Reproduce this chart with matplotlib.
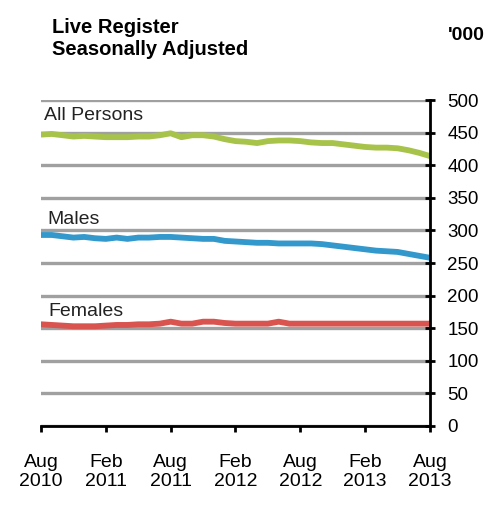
import matplotlib
matplotlib.use("Agg")
import matplotlib.pyplot as plt
import numpy as np

plt.rcParams['font.family'] = ['Liberation Sans', 'DejaVu Sans']

tick_labels = ["Aug\n2010", "Feb\n2011", "Aug\n2011", "Feb\n2012", "Aug\n2012", "Feb\n2013", "Aug\n2013"]

all_persons = [447, 448, 446, 444, 445, 444, 443, 443, 443, 444, 444, 446, 449,
               443, 446, 446, 444, 440, 437, 436, 434, 437, 438, 438, 437, 435,
               434, 434, 432, 430, 428, 427, 427, 426, 423, 419, 414]
males = [293, 293, 291, 289, 290, 288, 287, 289, 287, 289, 289, 290, 290,
         289, 288, 287, 287, 284, 283, 282, 281, 281, 280, 280, 280, 280,
         279, 277, 275, 273, 271, 269, 268, 267, 264, 261, 258]
females = [156, 155, 154, 153, 153, 153, 154, 155, 155, 156, 156, 157, 160,
           157, 157, 160, 160, 158, 157, 157, 157, 157, 160, 157, 157, 157,
           157, 157, 157, 157, 157, 157, 157, 157, 157, 157, 157]
series_names = ["All Persons", "Males", "Females"]
colors = ["#a8c34a", "#3399cc", "#d9534f"]

fig = plt.figure(figsize=(4.89, 5.13), dpi=100)
ax = fig.add_axes([0.0838, 0.1696, 0.7955, 0.6354])

months = np.arange(len(all_persons))
for vals, c in zip([all_persons, males, females], colors):
    ax.plot(months, vals, color=c, lw=4.2, solid_capstyle='round', zorder=3)

ax.set_xlim(0, 36)
ax.set_ylim(0, 500)
ax.set_yticks(np.arange(0, 501, 50))
ax.yaxis.tick_right()
ax.set_xticks(np.arange(0, 37, 6))
ax.set_xticklabels(tick_labels, fontsize=14, linespacing=1.15)
ax.tick_params(axis='y', labelsize=13.5, direction='inout', length=7, width=2, pad=9)
ax.tick_params(axis='x', direction='out', length=4, width=2, pad=16)
ax.grid(axis='y', color='#a0a0a0', lw=2.4, zorder=1)
for s in ['top', 'left']:
    ax.spines[s].set_visible(False)
ax.spines['right'].set_linewidth(2)
ax.spines['bottom'].set_linewidth(2)
ax.spines['right'].set_zorder(4)

label_pos = [(0.3, 469), (0.55, 310), (0.65, 168)]
for name, (x, y) in zip(series_names, label_pos):
    ax.text(x, y, name, fontsize=14, color='#222222', va='baseline', ha='left')

fig.text(52/489, 1 - 33/513, "Live Register", fontsize=14.5,
         fontweight='bold', va='baseline', ha='left')
fig.text(52/489, 1 - 55/513, "Seasonally Adjusted", fontsize=14.5,
         fontweight='bold', va='baseline', ha='left')
fig.text(448/489, 1 - 40/513, "'000", fontsize=14, fontweight='bold', va='baseline', ha='left')

fig.savefig("out.png", dpi=100)
